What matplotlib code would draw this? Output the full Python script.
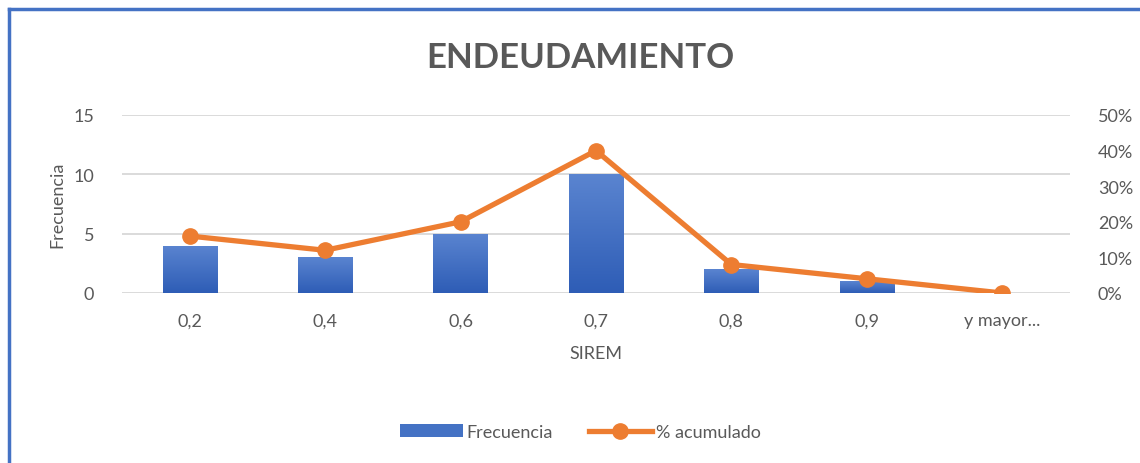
import numpy as np
import matplotlib.pyplot as plt
from matplotlib.lines import Line2D
from matplotlib.ticker import FuncFormatter
from matplotlib.colors import LinearSegmentedColormap

plt.rcParams['font.family'] = ['Lato', 'DejaVu Sans']

categorias = ['0,2', '0,4', '0,6', '0,7', '0,8', '0,9', 'y mayor...']
frecuencia = [4, 3, 5, 10, 2, 1, 0]
porcentaje = [0.16, 0.12, 0.20, 0.40, 0.08, 0.04, 0.0]

gris = '#595959'
azul = '#4472C4'
naranja = '#ED7D31'

fig = plt.figure(figsize=(11.4, 4.64), dpi=100)
ax = fig.add_axes([122 / 1140, 170 / 464, 948 / 1140, 178 / 464])
ax2 = ax.twinx()

x = list(range(len(categorias)))
barras = ax.bar(x, frecuencia, width=0.4, color=azul, zorder=2, label='Frecuencia')

# degradado en las barras
degradado = LinearSegmentedColormap.from_list('azules', ['#2E5DB6', '#5A84D0'])
for b in barras:
    if b.get_height() == 0:
        continue
    x0, y0 = b.get_x(), b.get_y()
    im = ax.imshow(np.linspace(0, 1, 100).reshape(-1, 1), cmap=degradado,
                   origin='lower', aspect='auto', zorder=2.1,
                   extent=[x0, x0 + b.get_width(), y0, y0 + b.get_height()])
    im.set_clip_path(b)

ax2.plot(x, porcentaje, color=naranja, lw=3.8, marker='o', ms=11,
         zorder=3, label='% acumulado')

ax.set_xlim(-0.5, len(categorias) - 0.5)
ax.set_ylim(0, 15)
ax.set_yticks([0, 5, 10, 15])
ax2.set_ylim(0, 0.5)
ax2.set_yticks([0, 0.1, 0.2, 0.3, 0.4, 0.5])
ax2.yaxis.set_major_formatter(FuncFormatter(lambda v, p: f'{v:.0%}'))

ax.set_xticks(x)
ax.set_xticklabels(categorias)
ax.grid(axis='y', color='#d4d4d4', lw=1.2, zorder=0)
ax.set_axisbelow(True)

for a in (ax, ax2):
    for s in a.spines.values():
        s.set_visible(False)
    a.tick_params(length=0, labelsize=13, labelcolor=gris)
ax.tick_params(axis='y', pad=20)
ax.tick_params(axis='x', pad=14)
ax2.tick_params(axis='y', pad=20)

ax.set_xlabel('SIREM', fontsize=13, color=gris, labelpad=12)
ax.set_ylabel('Frecuencia', fontsize=13, color=gris, labelpad=6)

fig.text(580 / 1140, 1 - 58 / 464, 'ENDEUDAMIENTO', ha='center', va='center',
         fontsize=25, fontweight='bold', color=gris)

h1, l1 = ax.get_legend_handles_labels()
h2, l2 = ax2.get_legend_handles_labels()
fig.legend(h1 + h2, l1 + l2, loc='center', bbox_to_anchor=(580 / 1140, 1 - 433 / 464),
           ncol=2, frameon=False, fontsize=13, labelcolor=gris,
           handlelength=3.5, handletextpad=0.2, columnspacing=2)

# marco azul
fig.add_artist(Line2D([9 / 1140, 9 / 1140], [0, 1 - 10 / 464], color=azul, lw=2.5))
fig.add_artist(Line2D([9 / 1140, 1], [1 - 10 / 464, 1 - 10 / 464], color=azul, lw=2.5))

fig.savefig('out.png', dpi=100)
